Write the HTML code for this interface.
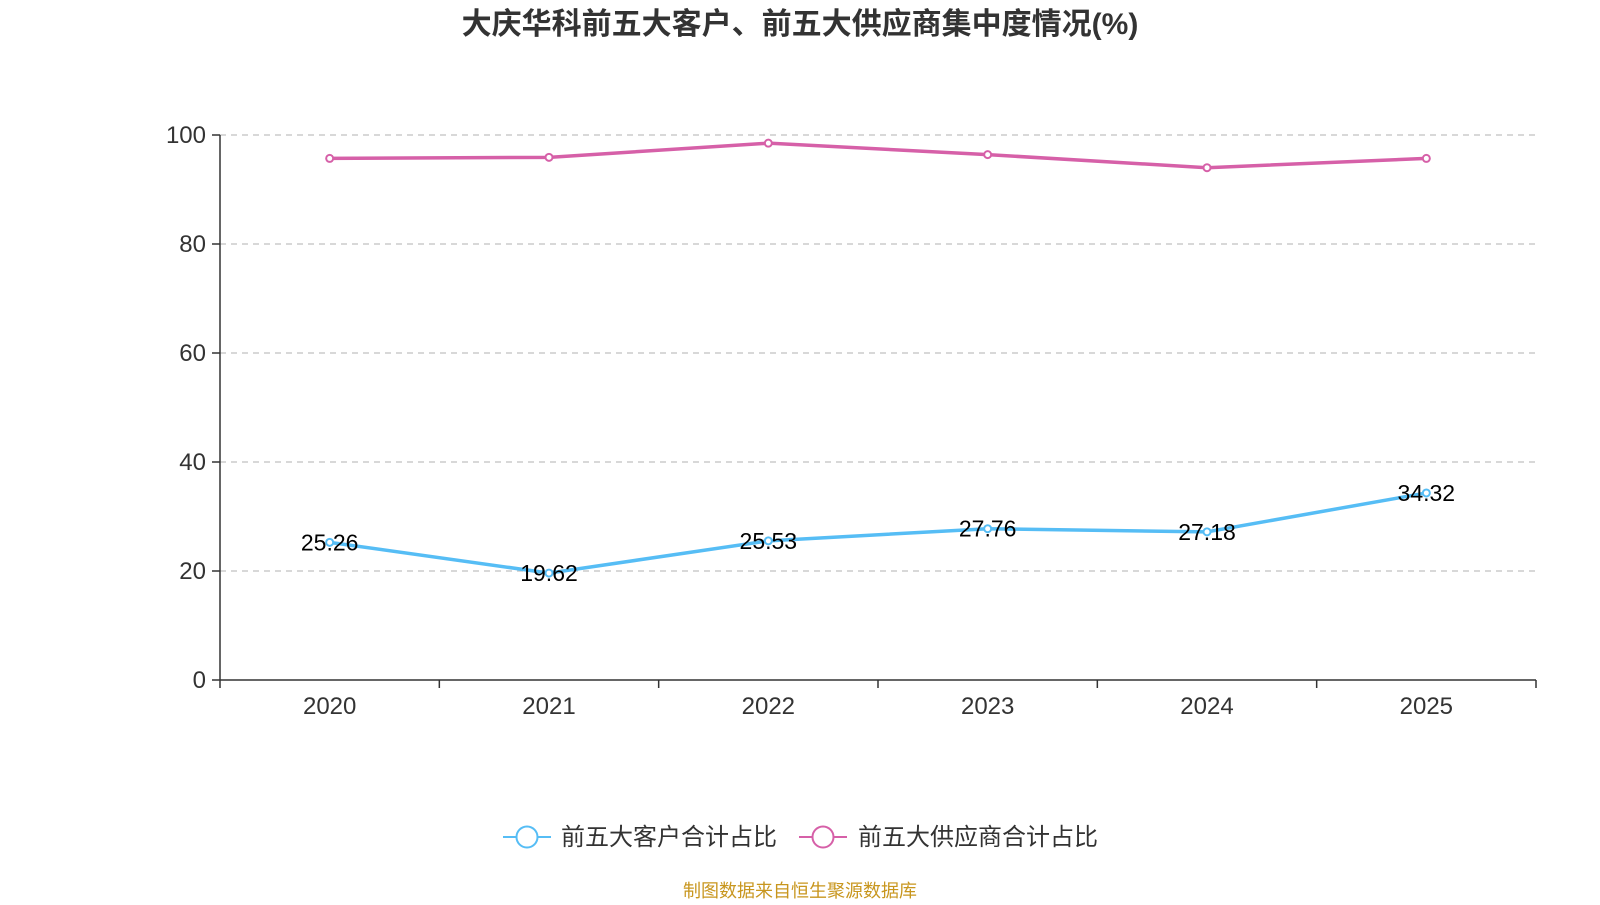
<!DOCTYPE html>
<html><head><meta charset="utf-8"><style>
body{margin:0;background:#fff;font-family:"Liberation Sans","Noto Sans CJK SC",sans-serif}
</style></head><body>
<svg id="c" width="1600" height="900" xmlns="http://www.w3.org/2000/svg">
<text x="800" y="34" text-anchor="middle" font-size="30" font-weight="bold" fill="#333" font-family="Liberation Sans, Noto Sans CJK SC, sans-serif">大庆华科前五大客户、前五大供应商集中度情况(%)</text>
<g id="grid"></g><g id="axes"></g><g id="series"></g>
<g font-size="24" fill="#333" font-family="Liberation Sans, Noto Sans CJK SC, sans-serif">
<g>
<line x1="503" y1="837" x2="551" y2="837" stroke="#56bdf5" stroke-width="2"/><circle cx="527" cy="837" r="10.5" fill="#fff" stroke="#56bdf5" stroke-width="2"/>
<text x="561" y="845">前五大客户合计占比</text></g>
<g>
<line x1="799" y1="837" x2="847" y2="837" stroke="#d660a8" stroke-width="2"/><circle cx="823" cy="837" r="10.5" fill="#fff" stroke="#d660a8" stroke-width="2"/>
<text x="858" y="845">前五大供应商合计占比</text></g>
</g>
<text x="800" y="897" text-anchor="middle" font-size="18" fill="#c8961e" font-family="Liberation Sans, Noto Sans CJK SC, sans-serif">制图数据来自恒生聚源数据库</text>
</svg>
<script>
const categories=["2020","2021","2022","2023","2024","2025"];
const customers=[25.26,19.62,25.53,27.76,27.18,34.32];
const suppliers=[95.7,95.9,98.5,96.4,94.0,95.7];
const yTicks=[0,20,40,60,80,100];
const NS="http://www.w3.org/2000/svg";
const L=220,R=1536,T=135,B=680;
const x=i=>L+(R-L)/categories.length*(i+0.5);
const y=v=>B-(B-T)*v/100;
function mk(t,a,p){const e=document.createElementNS(NS,t);for(const k in a)e.setAttribute(k,a[k]);p.appendChild(e);return e;}
const grid=document.getElementById('grid'),axes=document.getElementById('axes'),ser=document.getElementById('series');
yTicks.forEach(v=>{
 if(v>0){const g=mk('line',{x1:L,x2:R,y1:y(v),y2:y(v),stroke:'#ccc','stroke-width':1.5,'stroke-dasharray':'6,5'},grid);
 
 }
 const tk=mk('line',{x1:L-8,x2:L,y1:y(v),y2:y(v),stroke:'#333','stroke-width':1.5},axes);
 
 
 const t=mk('text',{x:L-14,y:y(v)+8,'text-anchor':'end','font-size':24,fill:'#333'},axes);t.textContent=v;
 
 
});
const ya=mk('line',{x1:L,x2:L,y1:T,y2:B,stroke:'#333','stroke-width':1.5},axes);


const xa=mk('line',{x1:L,x2:R,y1:B,y2:B,stroke:'#333','stroke-width':1.5},axes);


for(let i=0;i<=categories.length;i++){const xx=L+(R-L)/categories.length*i;const tk=mk('line',{x1:xx,x2:xx,y1:B,y2:B+8,stroke:'#333','stroke-width':1.5},axes);
 
 }
categories.forEach((c,i)=>{const t=mk('text',{x:x(i),y:B+34,'text-anchor':'middle','font-size':24,fill:'#333'},axes);t.textContent=c;
 
 });
function line(data,color,name,labels){
 const p=mk('polyline',{points:data.map((v,i)=>x(i)+','+y(v)).join(' '),fill:'none',stroke:color,'stroke-width':3.5},ser);
 
 
 data.forEach((v,i)=>{const c=mk('circle',{cx:x(i),cy:y(v),r:3.5,fill:'#fff',stroke:color,'stroke-width':2},ser);
  
  
  if(labels){const t=mk('text',{x:x(i),y:y(v)+8,'text-anchor':'middle','font-size':23,fill:'#000'},ser);t.textContent=v.toFixed(2);
  
  }
 });
}
line(suppliers,'#d660a8','suppliers',false);
line(customers,'#56bdf5','customers',true);
</script>
</body></html>
